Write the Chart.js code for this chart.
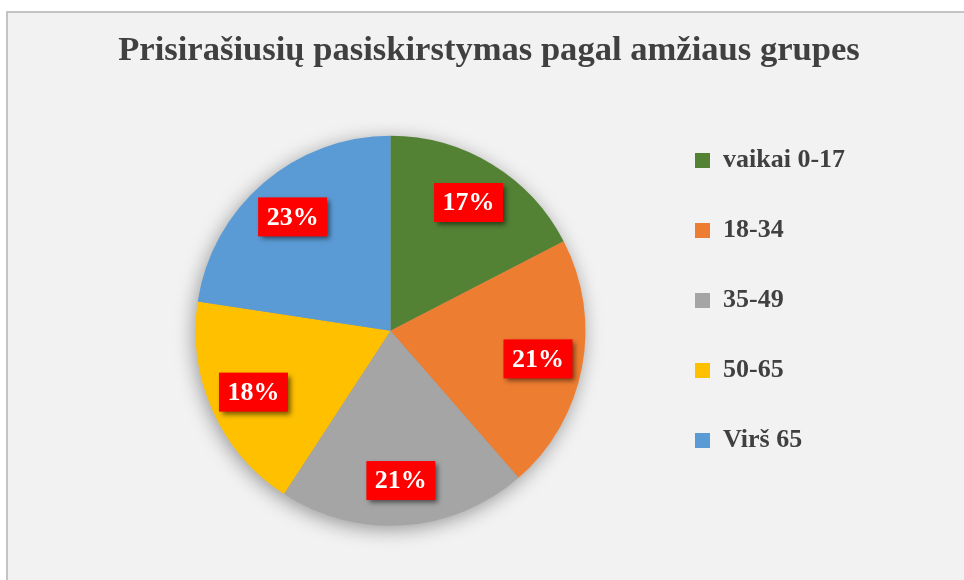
<!DOCTYPE html>
<html>
<head>
<meta charset="utf-8">
<script src="https://cdn.jsdelivr.net/npm/chart.js@4/dist/chart.umd.min.js"></script>
<style>
html,body{margin:0;padding:0;background:#ffffff;width:964px;height:580px;overflow:hidden}
#frame{position:absolute;left:6px;top:11px;width:1000px;height:600px;background:#f2f2f2;border-left:2px solid #c4c4c4;border-top:2px solid #c4c4c4}
#wrap{position:absolute;left:0;top:0;width:964px;height:580px}
</style>
</head>
<body>
<div id="frame"></div>
<div id="wrap"><canvas id="c" width="964" height="580"></canvas></div>
<script>
const titleText = 'Prisirašiusių pasiskirstymas pagal amžiaus grupes';
const categories = ['vaikai 0-17', '18-34', '35-49', '50-65', 'Virš 65'];
const shares = [17.4, 21.2, 20.6, 18.2, 22.6];
const percentLabels = ['17%', '21%', '21%', '18%', '23%'];
const sliceColors = ['#548235', '#ED7D31', '#A5A5A5', '#FFC000', '#5B9BD5'];

const SERIF = "'Liberation Serif', 'Times New Roman', serif";

const legendWidthPlugin = {
  id: 'legendWidth',
  beforeLayout(chart) {
    const lg = chart.legend;
    if (lg && !lg._fixedFit) {
      const orig = lg.fit;
      lg.fit = function () { orig.call(this); this.width = 197; };
      lg._fixedFit = true;
    }
  },
  afterLayout(chart) {
    const t = chart.titleBlock;
    if (t) { t.left = 100; t.right = 878; t.width = 778; }
  }
};

const pieShadowPlugin = {
  id: 'pieShadow',
  beforeDatasetsDraw(chart) {
    const meta = chart.getDatasetMeta(0);
    const a = meta.data[0];
    if (!a) return;
    const p = a.getProps(['x', 'y', 'outerRadius'], true);
    const ctx = chart.ctx;
    ctx.save();
    ctx.shadowColor = 'rgba(0,0,0,0.4)';
    ctx.shadowBlur = 20;
    ctx.shadowOffsetX = -2;
    ctx.shadowOffsetY = 4;
    ctx.beginPath();
    ctx.arc(p.x, p.y, p.outerRadius - 1, 0, Math.PI * 2);
    ctx.fillStyle = '#999999';
    ctx.fill();
    ctx.restore();
  }
};

const valueBoxPlugin = {
  id: 'valueBoxes',
  afterDatasetsDraw(chart) {
    const ctx = chart.ctx;
    const meta = chart.getDatasetMeta(0);
    ctx.save();
    ctx.font = 'bold 26px ' + SERIF;
    ctx.textAlign = 'center';
    ctx.textBaseline = 'middle';
    meta.data.forEach((arc, i) => {
      const p = arc.getProps(['x', 'y', 'startAngle', 'endAngle', 'outerRadius'], true);
      const mid = (p.startAngle + p.endAngle) / 2;
      const r = p.outerRadius * 0.77;
      const cx = p.x + Math.cos(mid) * r;
      const cy = p.y + Math.sin(mid) * r;
      const txt = percentLabels[i];
      const tw = ctx.measureText(txt).width;
      const w = tw + 17, h = 39;
      ctx.save();
      ctx.shadowColor = 'rgba(0,0,0,0.55)';
      ctx.shadowBlur = 5;
      ctx.shadowOffsetX = 3;
      ctx.shadowOffsetY = 3;
      ctx.fillStyle = '#FF0000';
      ctx.fillRect(cx - w / 2, cy - h / 2, w, h);
      ctx.restore();
      ctx.fillStyle = '#FFFFFF';
      ctx.fillText(txt, cx, cy + 1);
    });
    ctx.restore();
  }
};

new Chart(document.getElementById('c'), {
  type: 'pie',
  data: {
    labels: categories,
    datasets: [{
      data: shares,
      backgroundColor: sliceColors,
      borderWidth: 0,
      radius: 195
    }]
  },
  options: {
    responsive: false,
    animation: false,
    devicePixelRatio: 1,
    layout: { padding: { top: 10, left: 130, right: 116, bottom: 22 } },
    plugins: {
      title: {
        display: true,
        text: titleText,
        color: '#404040',
        font: { family: SERIF, size: 34.6, weight: 'bold' },
        padding: { top: 20, bottom: 32 }
      },
      legend: {
        display: true,
        position: 'right',
        align: 'start',
        fullSize: false,
        labels: {
          boxWidth: 15,
          boxHeight: 15,
          padding: 44,
          color: '#404040',
          font: { family: SERIF, size: 26, weight: 'bold' }
        }
      },
      tooltip: { enabled: false }
    }
  },
  plugins: [legendWidthPlugin, pieShadowPlugin, valueBoxPlugin]
});
</script>
</body>
</html>
